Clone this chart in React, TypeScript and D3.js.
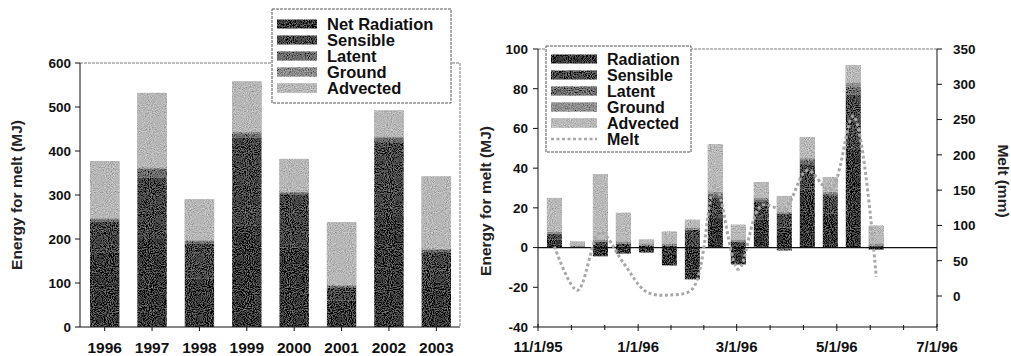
import React from "react";
import * as d3 from "d3";

// ---------- Left chart data (annual energy for melt, MJ) ----------
const YEARS = ["1996", "1997", "1998", "1999", "2000", "2001", "2002", "2003"];
const NET_RADIATION = [170, 200, 110, 230, 180, 60, 250, 100];
const SENSIBLE = [70, 140, 80, 200, 120, 30, 170, 70];
const LATENT = [5, 20, 5, 10, 5, 3, 10, 5];
const GROUND = [2, 2, 2, 3, 2, 2, 2, 2];
const ADVECTED = [130, 170, 93, 115, 75, 143, 60, 165];
const LEFT_Y_TICKS = [0, 100, 200, 300, 400, 500, 600];
const LEFT_KEYS = ["Net Radiation", "Sensible", "Latent", "Ground", "Advected"];

// ---------- Right chart data (biweekly energy for melt, MJ; melt, mm) ----------
const PERIOD_DATES = [
  "1995-11-11", "1995-11-25", "1995-12-09", "1995-12-23", "1996-01-06",
  "1996-01-20", "1996-02-03", "1996-02-17", "1996-03-02", "1996-03-16",
  "1996-03-30", "1996-04-13", "1996-04-27", "1996-05-11", "1996-05-25",
];
const RADIATION = [4, 0, -4.4, -3, -2.5, -9, -16, 15, -8.5, 14, 10, 28, 17, 50, -1];
const SENSIBLE_B = [3, 0.5, 3, 2, 1, 1, 9, 10, 3, 9, 7, 14, 9, 27, 1];
const LATENT_B = [0, 0, 0, 0, 0, 0, 0, 2, 0, 1, -1.5, 2, 1, 4, 0];
const GROUND_B = [1, 0.5, 1, 1, 1, 1, 1, 1, 1, 1, 1, 1, 1, 2, 1];
const ADVECTED_B = [17, 2, 33, 14.5, 2, 6, 4, 24, 7.5, 8, 8, 10.7, 7.4, 8.8, 9];
const MELT = [70, 8, 90, 47, 6, 1.5, 10, 155, 38, 128, 124, 178, 150, 255, 27];
const RIGHT_KEYS = ["Radiation", "Sensible", "Latent", "Ground", "Advected"];
const X_TICK_DATES = ["1995-11-01", "1996-01-01", "1996-03-01", "1996-05-01", "1996-07-01"];
const X_TICK_LABELS = ["11/1/95", "1/1/96", "3/1/96", "5/1/96", "7/1/96"];
const LEFT2_Y_TICKS = [-40, -20, 0, 20, 40, 60, 80, 100];
const MELT_TICKS = [0, 50, 100, 150, 200, 250, 300, 350];

const LEFT_COLORS = ["#3d3d3d", "#4a4a4a", "#6e6e6e", "#8c8c8c", "#b8b8b8"];
const RIGHT_COLORS = ["#3a3a3a", "#4d4d4d", "#707070", "#909090", "#bababa"];

const FONT = "'Liberation Sans', Arial, sans-serif";
const parse = d3.timeParse("%Y-%m-%d");

export default function App() {
  // ----- left chart -----
  const lx = d3.scaleBand<string>().domain(YEARS).range([81, 460]).paddingInner(0.38).paddingOuter(0.19);
  const ly = d3.scaleLinear().domain([0, 600]).range([327, 63]);
  const leftRows = YEARS.map((y, i) => ({
    year: y,
    "Net Radiation": NET_RADIATION[i],
    Sensible: SENSIBLE[i],
    Latent: LATENT[i],
    Ground: GROUND[i],
    Advected: ADVECTED[i],
  }));
  const leftStack = d3.stack<any>().keys(LEFT_KEYS)(leftRows);

  // ----- right chart -----
  const dates = PERIOD_DATES.map((d) => parse(d) as Date);
  const rx = d3.scaleTime().domain([parse("1995-11-01") as Date, parse("1996-07-01") as Date]).range([538, 937]);
  const ry = d3.scaleLinear().domain([-40, 100]).range([327, 49]);
  const rm = d3.scaleLinear().domain([0, 350]).range([296, 49]);
  const rightRows = dates.map((d, i) => ({
    date: d,
    Radiation: RADIATION[i],
    Sensible: SENSIBLE_B[i],
    Latent: LATENT_B[i],
    Ground: GROUND_B[i],
    Advected: ADVECTED_B[i],
  }));
  const rightStack = d3.stack<any>().keys(RIGHT_KEYS).offset(d3.stackOffsetDiverging)(rightRows);
  const barW = 15;
  const meltLine = d3
    .line<number>()
    .x((_, i) => rx(dates[i]))
    .y((v) => rm(v))
    .curve(d3.curveCatmullRom.alpha(0.5));

  const xTickDates = X_TICK_DATES.map((d) => parse(d) as Date);
  const minorTicks: Date[] = [];
  for (let i = 0; i < xTickDates.length - 1; i++) {
    const a = xTickDates[i].getTime();
    const b = xTickDates[i + 1].getTime();
    minorTicks.push(new Date(a + (b - a) / 3), new Date(a + (2 * (b - a)) / 3));
  }

  const tickStyle = { fontFamily: FONT, fontWeight: 700, fontSize: 13.5, fill: "#111" } as const;
  const rowY = (i: number) => 59 + 16 * i;

  return (
    <svg width={1011} height={356} style={{ position: "absolute", left: 0, top: 0, background: "#fff" }}>
      <defs>
        <filter id="speckle" filterUnits="userSpaceOnUse" x={0} y={0} width={1011} height={356}>
          <feTurbulence type="fractalNoise" baseFrequency="0.95" numOctaves={1} seed={7} result="n" />
          <feColorMatrix
            in="n"
            type="matrix"
            values="0.33 0.33 0.33 0 0  0.33 0.33 0.33 0 0  0.33 0.33 0.33 0 0  0 0 0 0 1"
            result="g"
          />
          <feComposite in="SourceGraphic" in2="g" operator="arithmetic" k1={0} k2={1} k3={1.3} k4={-0.65} result="c" />
          <feComposite in="c" in2="SourceGraphic" operator="in" />
        </filter>
      </defs>

      {/* ================= LEFT CHART ================= */}
      <line x1={80} x2={460} y1={63} y2={63} stroke="#777" strokeWidth={1} strokeDasharray="3 1" />
      <line x1={460} x2={460} y1={63} y2={327} stroke="#777" strokeWidth={1} strokeDasharray="3 1" />
      <g filter="url(#speckle)">
        {leftStack.map((layer, k) =>
          layer.map((seg, i) => (
            <rect
              key={`l-${k}-${i}`}
              x={lx(YEARS[i])}
              width={lx.bandwidth()}
              y={ly(seg[1])}
              height={Math.max(0, ly(seg[0]) - ly(seg[1]))}
              fill={LEFT_COLORS[k]}
            />
          ))
        )}
      </g>
      <line x1={80} x2={80} y1={63} y2={327} stroke="#111" strokeWidth={1} />
      <line x1={80} x2={460} y1={327} y2={327} stroke="#111" strokeWidth={1} />
      {LEFT_Y_TICKS.map((t) => (
        <g key={`lyt-${t}`}>
          <line x1={75} x2={80} y1={ly(t)} y2={ly(t)} stroke="#111" />
          <text x={71} y={ly(t)} dy="0.36em" textAnchor="end" style={tickStyle}>
            {t}
          </text>
        </g>
      ))}
      {YEARS.map((y) => (
        <g key={`lxt-${y}`}>
          <line
            x1={(lx(y) as number) + lx.bandwidth() / 2}
            x2={(lx(y) as number) + lx.bandwidth() / 2}
            y1={327}
            y2={331}
            stroke="#111"
          />
          <text
            x={(lx(y) as number) + lx.bandwidth() / 2}
            y={353}
            textAnchor="middle"
            style={{ ...tickStyle, fontSize: 15.5 }}
          >
            {y}
          </text>
        </g>
      ))}
      <text
        transform="translate(22,195) rotate(-90)"
        textAnchor="middle"
        style={{ fontFamily: FONT, fontWeight: 700, fontSize: 15.5, fill: "#222" }}
      >
        Energy for melt (MJ)
      </text>
      <rect x={272} y={9} width={179} height={94} fill="#fff" stroke="#555" strokeWidth={1} strokeDasharray="3 1" />
      <g filter="url(#speckle)">
        {LEFT_KEYS.map((k, i) => (
          <rect key={`lls-${k}`} x={277} y={24 + 16 * i - 4.5} width={40} height={9} fill={LEFT_COLORS[i]} />
        ))}
      </g>
      {LEFT_KEYS.map((k, i) => (
        <text
          key={`llt-${k}`}
          x={327}
          y={24 + 16 * i}
          dy="0.36em"
          style={{ fontFamily: FONT, fontWeight: 700, fontSize: 16.5, fill: "#111" }}
        >
          {k}
        </text>
      ))}

      {/* ================= RIGHT CHART ================= */}
      <line x1={538} x2={937} y1={49} y2={49} stroke="#777" strokeWidth={1} strokeDasharray="3 1" />
      <g filter="url(#speckle)">
        {rightStack.map((layer, k) =>
          layer.map((seg, i) => {
            const y0 = ry(Math.max(seg[0], seg[1]));
            const y1 = ry(Math.min(seg[0], seg[1]));
            return (
              <rect
                key={`r-${k}-${i}`}
                x={rx(dates[i]) - barW / 2}
                width={barW}
                y={y0}
                height={Math.max(0, y1 - y0)}
                fill={RIGHT_COLORS[k]}
              />
            );
          })
        )}
      </g>
      <line x1={538} x2={937} y1={ry(0)} y2={ry(0)} stroke="#111" strokeWidth={1.2} />
      <path
        d={meltLine(MELT) as string}
        fill="none"
        stroke="#a8a8a8"
        strokeWidth={3}
        strokeDasharray="3 2.5"
        strokeLinecap="butt"
      />
      <line x1={538} x2={538} y1={49} y2={327} stroke="#111" strokeWidth={1} />
      <line x1={937} x2={937} y1={49} y2={327} stroke="#111" strokeWidth={1} />
      <line x1={538} x2={937} y1={327} y2={327} stroke="#111" strokeWidth={1} />
      {LEFT2_Y_TICKS.map((t) => (
        <g key={`r2yt-${t}`}>
          <line x1={533} x2={538} y1={ry(t)} y2={ry(t)} stroke="#111" />
          <text x={528} y={ry(t)} dy="0.36em" textAnchor="end" style={tickStyle}>
            {t}
          </text>
        </g>
      ))}
      {MELT_TICKS.map((t) => (
        <g key={`rmt-${t}`}>
          <line x1={937} x2={942} y1={rm(t)} y2={rm(t)} stroke="#111" />
          <text x={953} y={rm(t)} dy="0.36em" textAnchor="start" style={tickStyle}>
            {t}
          </text>
        </g>
      ))}
      {xTickDates.map((d, i) => (
        <g key={`rxt-${i}`}>
          <line x1={rx(d)} x2={rx(d)} y1={324} y2={331} stroke="#111" />
          <text x={rx(d)} y={352} textAnchor="middle" style={{ ...tickStyle, fontSize: 15 }}>
            {X_TICK_LABELS[i]}
          </text>
        </g>
      ))}
      {minorTicks.map((d, i) => (
        <line key={`rmin-${i}`} x1={rx(d)} x2={rx(d)} y1={325} y2={330} stroke="#111" />
      ))}
      <text
        transform="translate(491,201) rotate(-90)"
        textAnchor="middle"
        style={{ fontFamily: FONT, fontWeight: 700, fontSize: 15.5, fill: "#222" }}
      >
        Energy for melt (MJ)
      </text>
      <text
        transform="translate(998,181) rotate(90)"
        textAnchor="middle"
        style={{ fontFamily: FONT, fontWeight: 700, fontSize: 15.5, fill: "#222" }}
      >
        Melt (mm)
      </text>
      <rect x={546} y={46} width={145} height={106} fill="#fff" stroke="#555" strokeWidth={1} strokeDasharray="3 1" />
      <g filter="url(#speckle)">
        {RIGHT_KEYS.map((k, i) => (
          <rect key={`rls-${k}`} x={551} y={rowY(i) - 4.5} width={46} height={9} fill={RIGHT_COLORS[i]} />
        ))}
      </g>
      <line
        x1={551}
        x2={597}
        y1={rowY(5)}
        y2={rowY(5)}
        stroke="#a8a8a8"
        strokeWidth={2.5}
        strokeDasharray="3 2.5"
      />
      {[...RIGHT_KEYS, "Melt"].map((k, i) => (
        <text
          key={`rlt-${k}`}
          x={607}
          y={rowY(i)}
          dy="0.36em"
          style={{ fontFamily: FONT, fontWeight: 700, fontSize: 16, fill: "#111" }}
        >
          {k}
        </text>
      ))}
    </svg>
  );
}
